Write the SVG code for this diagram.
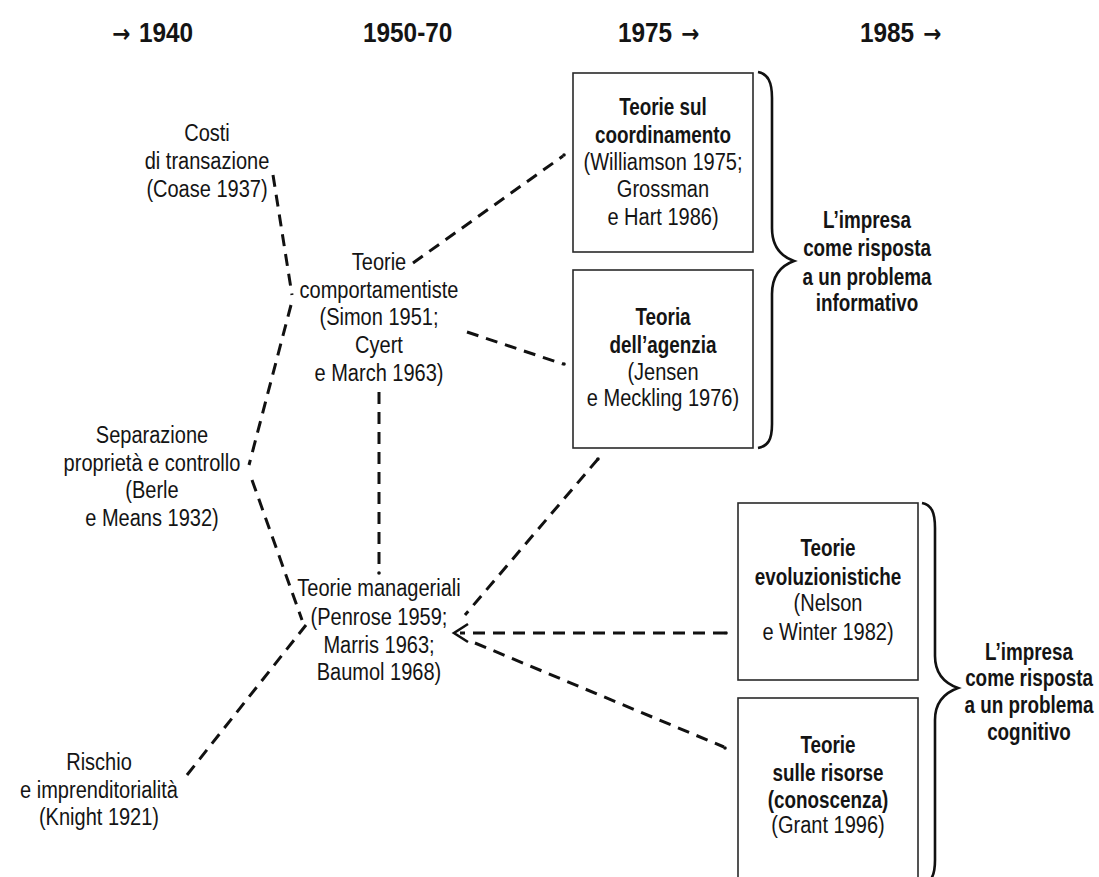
<svg xmlns="http://www.w3.org/2000/svg" width="1099" height="877" viewBox="0 0 1099 877">
<style>
text{font-family:"Liberation Sans",Arial,sans-serif;font-size:23px;fill:#141414;text-anchor:middle;transform:scaleX(0.87);transform-box:fill-box;transform-origin:center}
.b{font-weight:bold;transform:scaleX(0.82)}
.h{font-weight:bold;font-size:28px;text-anchor:start;transform:scaleX(0.87);transform-origin:left center}
.ar{font-family:"DejaVu Sans",sans-serif;font-weight:bold;font-size:25px}
.box{fill:none;stroke:#2a2a2a;stroke-width:1.6}
.brace{fill:none;stroke:#111;stroke-width:2.6}
.c{fill:none;stroke:#111;stroke-width:3;stroke-dasharray:12 8}
.dot{fill:#111}
</style>
<rect width="1099" height="877" fill="#fff"/>
<g id="headers">
<text class="h" x="112" y="42"><tspan class="ar">→</tspan><tspan dx="10">1940</tspan></text>
<text class="h" x="363" y="42">1950-70</text>
<text class="h" x="618" y="42">1975<tspan class="ar" dx="10">→</tspan></text>
<text class="h" x="860" y="42">1985<tspan class="ar" dx="10">→</tspan></text>
</g>
<g id="connectors">
<line class="c" x1="273" y1="175" x2="292" y2="295"/>
<line class="c" x1="291" y1="305" x2="249" y2="465"/>
<line class="c" x1="252" y1="480" x2="302" y2="620"/>
<line class="c" x1="187" y1="775" x2="306" y2="625"/>
<line class="c" x1="379" y1="392" x2="379" y2="572"/>
<circle class="dot" cx="379" cy="573" r="1.8"/>
<line class="c" x1="413" y1="263" x2="563" y2="156"/>
<circle class="dot" cx="564" cy="155" r="1.8"/>
<line class="c" x1="467" y1="332" x2="563" y2="364"/>
<circle class="dot" cx="564" cy="364" r="1.8"/>
<line class="c" x1="598" y1="459" x2="465" y2="615"/>
<circle class="dot" cx="598" cy="459" r="1.8"/>
<line class="c" x1="725" y1="633" x2="460" y2="633"/>
<circle class="dot" cx="726" cy="633" r="1.8"/>
<polyline fill="none" stroke="#111" stroke-width="2.6" points="468,624 454,633 468,642"/>
<line class="c" x1="475" y1="643" x2="724" y2="747"/>
<circle class="dot" cx="725" cy="748" r="1.8"/>
</g>
<g id="n-coase">
<text x="207" y="141">Costi</text>
<text x="207" y="169">di transazione</text>
<text x="207" y="197">(Coase 1937)</text>
</g>
<g id="n-comportamentiste">
<text x="379" y="270">Teorie</text>
<text x="379" y="298">comportamentiste</text>
<text x="379" y="325">(Simon 1951;</text>
<text x="379" y="353">Cyert</text>
<text x="379" y="381">e March 1963)</text>
</g>
<g id="n-separazione">
<text x="152" y="443">Separazione</text>
<text x="152" y="471">proprietà e controllo</text>
<text x="152" y="498">(Berle</text>
<text x="152" y="526">e Means 1932)</text>
</g>
<g id="n-manageriali">
<text x="379" y="596">Teorie manageriali</text>
<text x="379" y="625">(Penrose 1959;</text>
<text x="379" y="653">Marris 1963;</text>
<text x="379" y="680">Baumol 1968)</text>
</g>
<g id="n-knight">
<text x="99" y="770">Rischio</text>
<text x="99" y="798">e imprenditorialità</text>
<text x="99" y="825">(Knight 1921)</text>
</g>
<g id="n-coordinamento">
<rect class="box" x="573" y="73" width="180" height="179"/>
<text class="b" x="663" y="115">Teorie sul</text>
<text class="b" x="663" y="143">coordinamento</text>
<text x="663" y="170">(Williamson 1975;</text>
<text x="663" y="197">Grossman</text>
<text x="663" y="225">e Hart 1986)</text>
</g>
<g id="n-agenzia">
<rect class="box" x="573" y="270" width="180" height="178"/>
<text class="b" x="663" y="325">Teoria</text>
<text class="b" x="663" y="353">dell’agenzia</text>
<text x="663" y="380">(Jensen</text>
<text x="663" y="406">e Meckling 1976)</text>
</g>
<g id="n-evoluzionistiche">
<rect class="box" x="738" y="503" width="180" height="177"/>
<text class="b" x="828" y="556">Teorie</text>
<text class="b" x="828" y="585">evoluzionistiche</text>
<text x="828" y="611">(Nelson</text>
<text x="828" y="640">e Winter 1982)</text>
</g>
<g id="n-risorse">
<rect class="box" x="738" y="698" width="180" height="190"/>
<text class="b" x="828" y="753">Teorie</text>
<text class="b" x="828" y="781">sulle risorse</text>
<text class="b" x="828" y="808">(conoscenza)</text>
<text x="828" y="833">(Grant 1996)</text>
</g>
<g id="n-informativo">
<path class="brace" d="M758,72 C768,74 772,82 772,98 L772,228 C772,246 780,256 794,261 C780,266 772,276 772,294 L772,424 C772,440 768,446 758,448"/>
<text class="b" x="867" y="228">L’impresa</text>
<text class="b" x="867" y="256">come risposta</text>
<text class="b" x="867" y="285">a un problema</text>
<text class="b" x="867" y="311">informativo</text>
</g>
<g id="n-cognitivo">
<path class="brace" d="M922,503 C932,505 935,513 935,528 L935,656 C935,674 944,683 958,688 C944,693 935,702 935,720 L935,860 C935,870 933,877 930,880"/>
<text class="b" x="1029" y="660">L’impresa</text>
<text class="b" x="1029" y="686">come risposta</text>
<text class="b" x="1029" y="713">a un problema</text>
<text class="b" x="1029" y="740">cognitivo</text>
</g>
</svg>
